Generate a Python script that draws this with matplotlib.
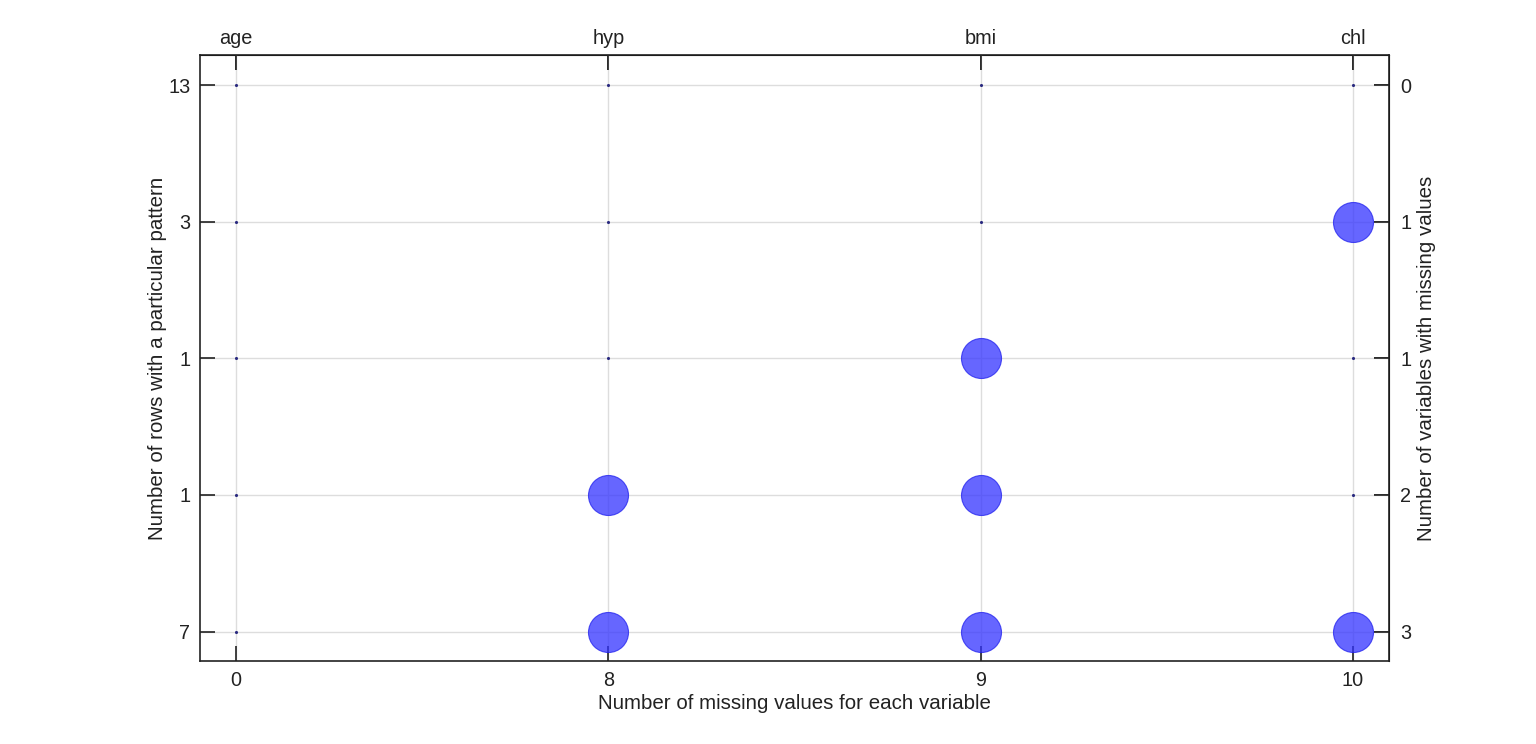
import matplotlib.pyplot as plt

plt.rcParams['font.family'] = ['Liberation Sans', 'DejaVu Sans']

# Дані
variables = ['age', 'hyp', 'bmi', 'chl']
missing_per_var = ['0', '8', '9', '10']
row_counts = ['13', '3', '1', '1', '7']
missing_per_row = ['0', '1', '1', '2', '3']
# 1 = пропущене значення, 0 = наявне
pattern = [
    [0, 0, 0, 0],
    [0, 0, 0, 1],
    [0, 0, 1, 0],
    [0, 1, 1, 0],
    [0, 1, 1, 1],
]

fig = plt.figure(figsize=(15.36, 7.44), dpi=100)
ax = fig.add_axes([200 / 1536, 1 - 661 / 744, 1189 / 1536, 606 / 744])

xs_obs, ys_obs, xs_mis, ys_mis = [], [], [], []
for i, row in enumerate(pattern):
    for j, v in enumerate(row):
        if v:
            xs_mis.append(j)
            ys_mis.append(i)
        else:
            xs_obs.append(j)
            ys_obs.append(i)

ax.scatter(xs_obs, ys_obs, s=5, color='#2a2a80', zorder=3, linewidths=0)
ax.scatter(xs_mis, ys_mis, s=830, color='#3333ff', alpha=0.75,
           edgecolors='#2020ee', linewidths=0.8, zorder=3)

ax.set_xlim(-0.097, 3.097)
ax.set_ylim(4.215, -0.22)

ax.set_xticks(range(len(variables)))
ax.set_xticklabels(missing_per_var)
ax.set_yticks(range(len(row_counts)))
ax.set_yticklabels(row_counts)

ax.grid(True, color='#dddddd', linewidth=1)
ax.set_axisbelow(True)
for s in ax.spines.values():
    s.set_linewidth(1.2)
    s.set_color('#222222')

ax.tick_params(direction='in', length=11, width=1.2, labelsize=14.3,
               top=True, right=True, pad=7, colors='#222222')

ax.set_xlabel('Number of missing values for each variable', fontsize=14.8,
              color='#222222', labelpad=3)
ax.set_ylabel('Number of rows with a particular pattern', fontsize=14.8,
              color='#222222', labelpad=1)

axt = ax.secondary_xaxis('top')
axt.set_xticks(range(len(variables)))
axt.set_xticklabels(variables)
axt.tick_params(direction='in', length=11, width=1.2, labelsize=14.3, pad=5, colors='#222222')

axr = ax.secondary_yaxis('right')
axr.set_yticks(range(len(missing_per_row)))
axr.set_yticklabels(missing_per_row)
axr.tick_params(direction='in', length=11, width=1.2, labelsize=14.3, pad=8, colors='#222222')
axr.set_ylabel('Number of variables with missing values', fontsize=14.8, color='#222222')

fig.savefig('out.png', dpi=100)
